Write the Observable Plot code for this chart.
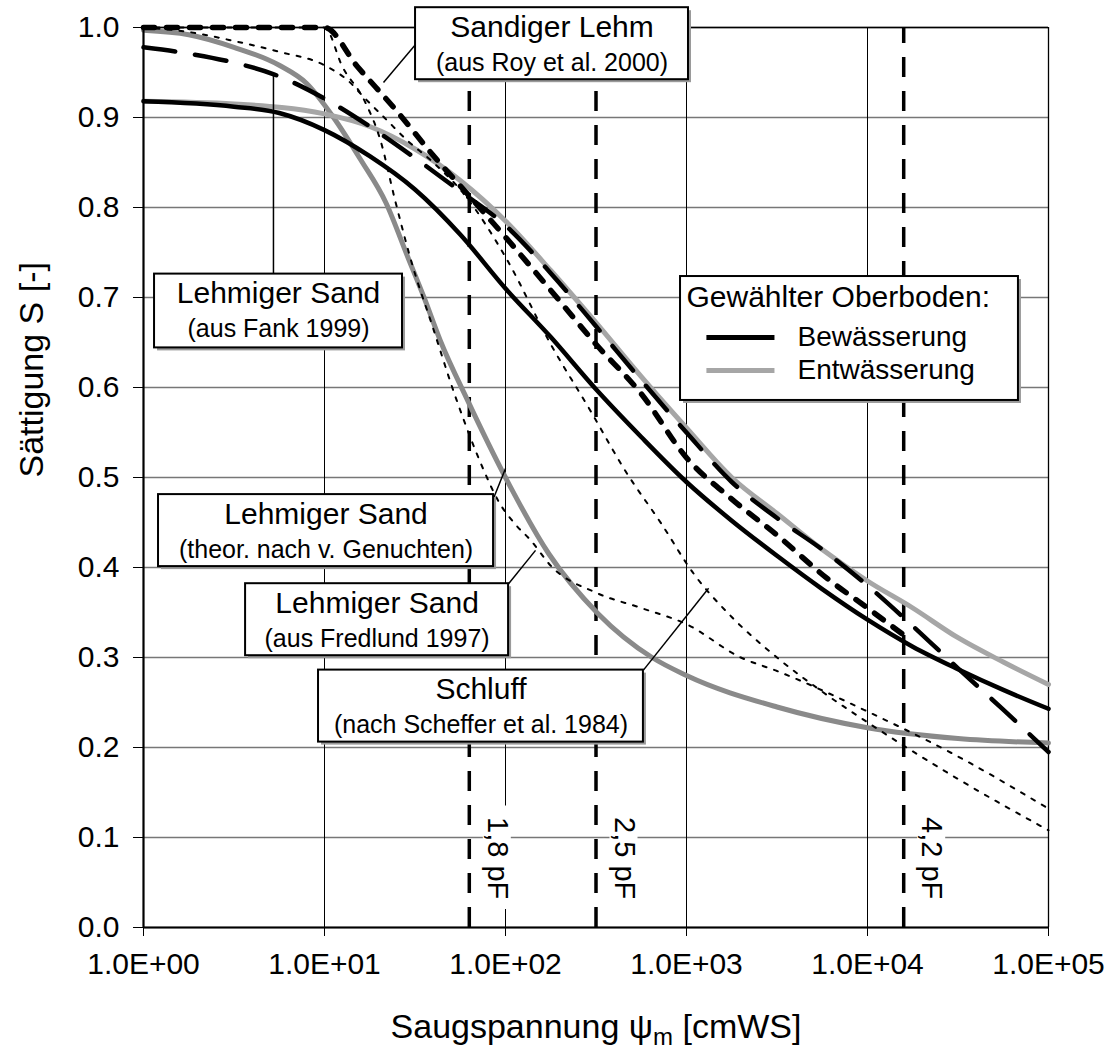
<!DOCTYPE html>
<html><head><meta charset="utf-8">
<script src="https://cdn.jsdelivr.net/npm/d3@7"></script>
<script src="https://cdn.jsdelivr.net/npm/@observablehq/plot@0.6"></script>
<style>body{margin:0;background:#fff} svg{display:block}</style>
</head><body><div id="chart"></div>
<script>
// ---- axes ----
const xTickExps = [0, 1, 2, 3, 4, 5];
const xTickLabels = ["1.0E+00", "1.0E+01", "1.0E+02", "1.0E+03", "1.0E+04", "1.0E+05"];
const yTicks = [0, 0.1, 0.2, 0.3, 0.4, 0.5, 0.6, 0.7, 0.8, 0.9, 1.0];
const yTickLabels = ["0.0", "0.1", "0.2", "0.3", "0.4", "0.5", "0.6", "0.7", "0.8", "0.9", "1.0"];
const xTitle = "Saugspannung ψm [cmWS]";
const yTitle = "Sättigung S [-]";

// ---- pF marker lines ----
const pfValues = [1.8, 2.5, 4.2];
const pfLabels = ["1,8 pF", "2,5 pF", "4,2 pF"];

// ---- curves (x given as log10 of suction, y = saturation) ----
// Gewählter Oberboden: Bewässerung (black solid)
const bewLog = [0, 0.5, 0.75, 1.0, 1.25, 1.5, 1.75, 2.0, 2.25, 2.5, 2.75, 3.0, 3.25, 3.5, 3.75, 4.0, 4.25, 4.5, 4.75, 5.0];
const bewS   = [0.918, 0.912, 0.905, 0.886, 0.857, 0.82, 0.77, 0.71, 0.656, 0.598, 0.545, 0.495, 0.452, 0.413, 0.376, 0.342, 0.312, 0.287, 0.264, 0.243];
// Gewählter Oberboden: Entwässerung (grey solid)
const entLog = [0, 0.5, 1.0, 1.25, 1.5, 1.75, 2.0, 2.25, 2.5, 2.75, 3.0, 3.25, 3.5, 3.75, 4.0, 4.25, 4.5, 4.75, 5.0];
const entS   = [0.918, 0.915, 0.904, 0.89, 0.865, 0.83, 0.785, 0.73, 0.672, 0.612, 0.555, 0.5, 0.46, 0.42, 0.385, 0.355, 0.322, 0.295, 0.27];
// Lehmiger Sand (aus Fank 1999) (black long dash)
const fankLog = [0, 0.25, 0.5, 0.72, 1.0, 1.25, 1.5, 1.75, 2.0, 2.25, 2.5, 2.75, 3.0, 3.25, 3.5, 3.75, 4.0, 4.25, 4.5, 4.75, 5.0];
const fankS   = [0.978, 0.971, 0.961, 0.948, 0.921, 0.89, 0.855, 0.818, 0.78, 0.727, 0.668, 0.608, 0.55, 0.495, 0.455, 0.42, 0.38, 0.335, 0.288, 0.242, 0.195];
// Sandiger Lehm (aus Roy et al. 2000) (black bold short dash)
const royLog = [0, 1.0, 1.18, 1.4, 1.6, 1.79, 2.0, 2.25, 2.5, 2.75, 3.0, 3.25, 3.5, 3.77, 4.0, 4.2];
const royS   = [1.0, 1.0, 0.957, 0.907, 0.858, 0.815, 0.767, 0.708, 0.648, 0.593, 0.522, 0.476, 0.436, 0.389, 0.355, 0.325];
// Lehmiger Sand (theor. nach v. Genuchten) (thin dotted)
const genLog = [0, 1.0, 1.1, 1.22, 1.31, 1.39, 1.49, 1.59, 1.73, 1.88, 1.96, 2.05, 2.14, 2.25, 2.5, 2.75, 3.0, 3.3, 3.5, 4.0, 4.5, 5.0];
const genS   = [1.0, 1.0, 0.956, 0.919, 0.874, 0.808, 0.733, 0.672, 0.586, 0.508, 0.474, 0.449, 0.43, 0.402, 0.372, 0.355, 0.337, 0.30, 0.285, 0.24, 0.19, 0.132];
// Schluff (nach Scheffer et al. 1984) (thin dotted)
const schLog = [0, 0.25, 0.5, 0.75, 1.0, 1.13, 1.22, 1.33, 1.46, 1.59, 1.77, 2.0, 2.25, 2.47, 2.66, 2.86, 3.04, 3.25, 3.5, 3.75, 4.0, 4.5, 5.0];
const schS   = [1.0, 0.995, 0.985, 0.973, 0.958, 0.941, 0.922, 0.9, 0.874, 0.852, 0.815, 0.745, 0.648, 0.574, 0.508, 0.449, 0.393, 0.345, 0.30, 0.262, 0.228, 0.165, 0.108];
// Lehmiger Sand (aus Fredlund 1997) (grey bold)
const freLog = [0, 0.25, 0.5, 0.75, 0.9, 1.05, 1.2, 1.34, 1.46, 1.55, 1.64, 1.79, 2.0, 2.24, 2.51, 2.81, 3.0, 3.5, 4.0, 4.5, 5.0];
const freS   = [0.997, 0.992, 0.978, 0.958, 0.938, 0.90, 0.853, 0.805, 0.745, 0.70, 0.652, 0.586, 0.50, 0.415, 0.349, 0.30, 0.28, 0.245, 0.222, 0.21, 0.205];

// ---- annotation texts ----
const noteTitles = ["Sandiger Lehm", "Lehmiger Sand", "Lehmiger Sand", "Lehmiger Sand", "Schluff"];
const noteSubs = ["(aus Roy et al. 2000)", "(aus Fank 1999)", "(theor. nach v. Genuchten)", "(aus Fredlund 1997)", "(nach Scheffer et al. 1984)"];
const legendTitle = "Gewählter Oberboden:";
const legendNames = ["Bewässerung", "Entwässerung"];

// ---- layout (in data coordinates: log10 psi, S) ----
const noteBoxes = [
  {l: 1.503, r: 3.011, top: 1.022, bot: 0.942},
  {l: 0.061, r: 1.431, top: 0.726, bot: 0.644},
  {l: 0.083, r: 1.934, top: 0.481, bot: 0.401},
  {l: 0.564, r: 2.017, top: 0.382, bot: 0.302},
  {l: 0.967, r: 2.762, top: 0.286, bot: 0.206}
];
const leaders = [
  {a: [1.503, 0.981], b: [1.326, 0.939]},
  {a: [0.718, 0.726], b: [0.718, 0.948]},
  {a: [1.934, 0.477], b: [2.0, 0.51]},
  {a: [2.017, 0.382], b: [2.166, 0.419]},
  {a: [2.762, 0.286], b: [3.122, 0.377]}
];
const legendBox = {l: 2.967, r: 4.834, top: 0.7233, bot: 0.5856};

const P = l => Math.pow(10, l);
const mk = (logs, vals) => logs.map((l, i) => ({psi: P(l), S: vals[i]}));

const bew = mk(bewLog, bewS), ent = mk(entLog, entS), fank = mk(fankLog, fankS),
      roy = mk(royLog, royS), gen = mk(genLog, genS), sch = mk(schLog, schS), fre = mk(freLog, freS);

const boxes = noteBoxes.map((b, i) => ({x1: P(b.l), x2: P(b.r), y1: b.bot, y2: b.top,
  cx: P((b.l + b.r) / 2), t: noteTitles[i], s: noteSubs[i]}));
const links = leaders.map(d => ({x1: P(d.a[0]), y1: d.a[1], x2: P(d.b[0]), y2: d.b[1]}));
const pf = pfValues.map((v, i) => ({psi: P(v), label: pfLabels[i]}));
const legendRows = legendNames.map((n, i) => ({name: n, y: [0.6556, 0.6189][i], color: ["#000", "#a6a6a6"][i]}));

const font = "'Liberation Sans', Arial, Helvetica, sans-serif";

const chart = Plot.plot({
  width: 1109, height: 1049,
  marginLeft: 143, marginRight: 61, marginTop: 27, marginBottom: 122,
  style: {fontFamily: font, fontSize: "30px", background: "#fff", color: "#000", overflow: "visible"},
  x: {type: "log", domain: [1, 1e5], label: null},
  y: {domain: [0, 1], label: null},
  marks: [
    Plot.gridY(yTicks, {stroke: "#777", strokeOpacity: 1, strokeWidth: 1.3}),
    Plot.gridX(xTickExps.map(P), {stroke: "#000", strokeOpacity: 1, strokeWidth: 1}),
    Plot.ruleY([1], {stroke: "#000", strokeWidth: 1.3}),
    Plot.ruleX([1e5], {stroke: "#000", strokeWidth: 1.3}),
    // pF lines
    Plot.ruleX(pf, {x: "psi", y1: 0, y2: 1, stroke: "#000", strokeWidth: 3.5, strokeDasharray: "20,14"}),
    // curves
    Plot.line(fre, {x: "psi", y: "S", stroke: "#8a8a8a", strokeWidth: 5, curve: "monotone-x"}),
    Plot.line(ent, {x: "psi", y: "S", stroke: "#a6a6a6", strokeWidth: 5, curve: "monotone-x"}),
    Plot.line(gen, {x: "psi", y: "S", stroke: "#000", strokeWidth: 2, strokeDasharray: "4,8", curve: "monotone-x"}),
    Plot.line(sch, {x: "psi", y: "S", stroke: "#000", strokeWidth: 2, strokeDasharray: "4,8", curve: "monotone-x"}),
    Plot.line(fank, {x: "psi", y: "S", stroke: "#000", strokeWidth: 4.5, strokeDasharray: "32,20", curve: "monotone-x"}),
    Plot.line(roy, {x: "psi", y: "S", stroke: "#000", strokeWidth: 5.5, strokeDasharray: "11,12", curve: "monotone-x"}),
    Plot.line(bew, {x: "psi", y: "S", stroke: "#000", strokeWidth: 4.5, curve: "monotone-x"}),
    // leaders
    Plot.link(links, {x1: "x1", y1: "y1", x2: "x2", y2: "y2", stroke: "#000", strokeWidth: 1.5}),
    // note boxes
    Plot.rect(boxes, {x1: "x1", x2: "x2", y1: "y1", y2: "y2", fill: "#9a9a9a", dx: 3, dy: 3}),
    Plot.rect(boxes, {x1: "x1", x2: "x2", y1: "y1", y2: "y2", fill: "#fff", stroke: "#000", strokeWidth: 2}),
    Plot.text(boxes, {x: "cx", y: "y2", text: "t", fontSize: 30, lineAnchor: "bottom", dy: 29}),
    Plot.text(boxes, {x: "cx", y: "y2", text: "s", fontSize: 25, lineAnchor: "bottom", dy: 63}),
    // legend
    Plot.rect([legendBox], {x1: d => P(d.l), x2: d => P(d.r), y1: "bot", y2: "top", fill: "#9a9a9a", dx: 3, dy: 3}),
    Plot.rect([legendBox], {x1: d => P(d.l), x2: d => P(d.r), y1: "bot", y2: "top", fill: "#fff", stroke: "#000", strokeWidth: 2}),
    Plot.text([legendTitle], {x: P(3.0), y: 0.689, text: d => d, textAnchor: "start", lineAnchor: "bottom", fontSize: 30}),
    Plot.link(legendRows, {x1: P(3.11), x2: P(3.486), y1: "y", y2: "y", stroke: "color", strokeWidth: 5}),
    Plot.text(legendRows, {x: P(3.613), y: "y", text: "name", textAnchor: "start", lineAnchor: "middle", fontSize: 28}),
    // pF labels
    Plot.rect(pf, {x1: d => d.psi * Math.pow(10, 14 / 181), x2: d => d.psi * Math.pow(10, 42 / 181), y1: 0.02, y2: 0.135, fill: "#fff"}),
    Plot.text(pf, {x: "psi", y: 0.077, text: "label", rotate: 90, dx: 28, fontSize: 29}),
    // frame axes
    Plot.ruleY([0], {stroke: "#000", strokeWidth: 2.2}),
    Plot.ruleX([1], {stroke: "#000", strokeWidth: 2.2}),
    Plot.axisY(yTicks, {tickFormat: d => yTickLabels[Math.round(d * 10)], tickSize: 10, tickPadding: 14, fontSize: 30, label: null}),
    Plot.axisX(xTickExps.map(P), {tickFormat: d => xTickLabels[Math.round(Math.log10(d))], tickSize: 9, tickPadding: 16, fontSize: 30, label: null}),
    // titles
    Plot.text([xTitle], {frameAnchor: "bottom", dy: 110, text: d => d, fontSize: 34, lineAnchor: "bottom"}),
    Plot.text([yTitle], {frameAnchor: "left", dx: -111, text: d => d, fontSize: 34, rotate: -90, lineAnchor: "middle"})
  ]
});
document.getElementById("chart").appendChild(chart);

// subscript m in the x title
d3.select(chart).selectAll("text").filter(function() { return this.textContent === xTitle; })
  .each(function() {
    const t = d3.select(this);
    t.text(null);
    t.append("tspan").text("Saugspannung ψ");
    t.append("tspan").text("m").attr("font-size", 24).attr("dy", 7);
    t.append("tspan").text(" [cmWS]").attr("dy", -7);
  });
</script>
</body></html>
